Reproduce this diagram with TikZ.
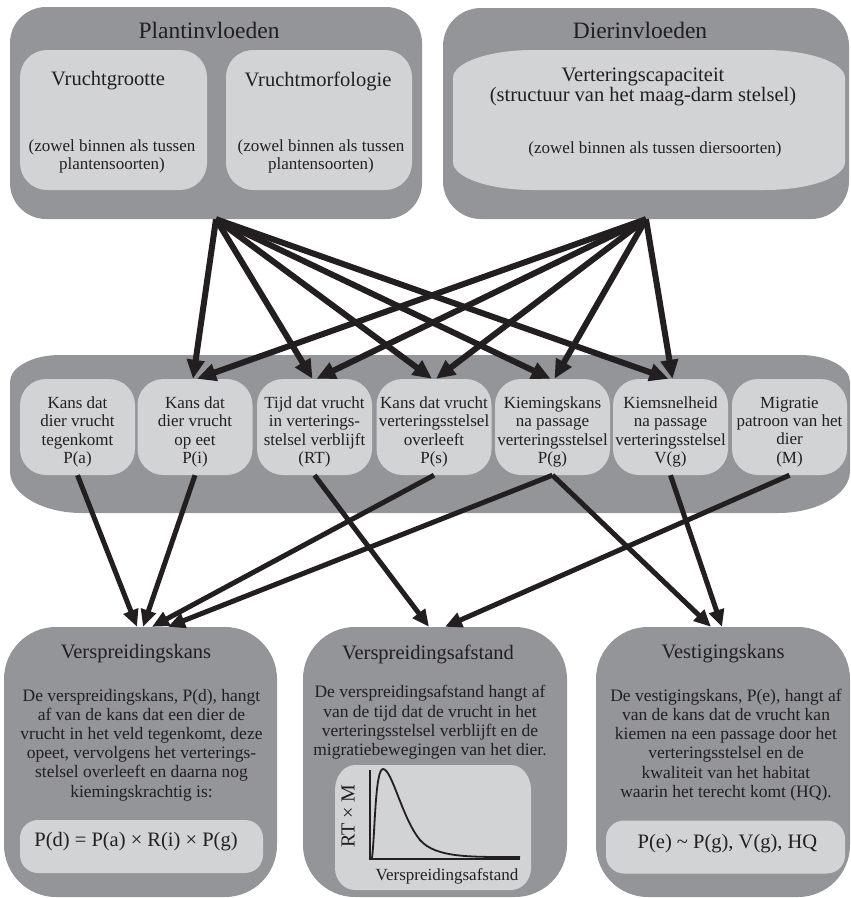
\documentclass[tikz,border=0pt]{standalone}
\usepackage{fontspec}
\setmainfont{Liberation Serif}
\usetikzlibrary{arrows.meta}
\definecolor{ink}{HTML}{231F20}
\definecolor{dgrey}{HTML}{939598}
\definecolor{lgrey}{HTML}{D1D3D4}
% rounded rectangle with elliptical corners: #1 style, (#2,#3) top-left, (#4,#5) bottom-right,
% #6/#7 x/y radius of top corners, #8/#9 x/y radius of bottom corners
\newcommand\erect[9]{%
  \path[#1] (#2+#6,#3) -- (#4-#6,#3)
    .. controls (#4-0.448*#6,#3) and (#4,#3+0.448*#7) .. (#4,#3+#7)
    -- (#4,#5-#9)
    .. controls (#4,#5-0.448*#9) and (#4-0.448*#8,#5) .. (#4-#8,#5)
    -- (#2+#8,#5)
    .. controls (#2+0.448*#8,#5) and (#2,#5-0.448*#9) .. (#2,#5-#9)
    -- (#2,#3+#7)
    .. controls (#2,#3+0.448*#7) and (#2+0.448*#6,#3) .. (#2+#6,#3) -- cycle;}
\begin{document}
\begin{tikzpicture}[x=1pt,y=-1pt,
  outer/.style={fill=dgrey, draw=none, inner sep=0pt},
  inner/.style={fill=lgrey, draw=none, inner sep=0pt},
  txt/.style={text=ink, inner sep=0pt, align=center},
  ttl/.style={txt, font=\fontsize{23.5}{26}\selectfont},
  sub/.style={txt, font=\fontsize{20.5}{18.5}\selectfont},
  small/.style={txt, font=\fontsize{17}{17.8}\selectfont},
  mid/.style={txt, font=\fontsize{17}{18.3}\selectfont},
  body/.style={txt, font=\fontsize{17.5}{19.2}\selectfont},
  frm/.style={txt, font=\fontsize{20.5}{24}\selectfont},
  midbox/.style={inner, rounded corners=26pt, minimum width=115pt, minimum height=96pt},
  botbox/.style={outer, rounded corners=52pt, minimum height=270pt},
  frmbox/.style={inner, rounded corners=18pt, minimum height=53pt},
  toparr/.style={draw=ink, line width=6pt, -{Triangle[length=19pt,width=17pt]}},
  botarr/.style={draw=ink, line width=5pt, -{Triangle[length=17pt,width=15pt]}},
  plot/.style={draw=ink, line width=1.8pt},
]
\useasboundingbox (0,0) rectangle (851,898);

% ---------- top row ----------
\node[outer, rounded corners=36pt, minimum width=412pt, minimum height=212pt] (plant) at (216,113) {};
\node[outer, rounded corners=38pt, minimum width=406pt, minimum height=211pt] (dier) at (646,113.5) {};
\node[inner, rounded corners=27pt, minimum width=187pt, minimum height=140pt] (vgr) at (113.5,120) {};
\node[inner, rounded corners=27pt, minimum width=186pt, minimum height=140pt] (vmo) at (319,120) {};
\erect{inner}{453}{50}{845}{190}{80}{28}{80}{28}

\node[ttl] (plantT) at (209,30) {Plantinvloeden};
\node[ttl] (dierT) at (640,30) {Dierinvloeden};
\node[sub] (vgrT) at (108,81) {Vruchtgrootte};
\node[sub] (vmoT) at (318,81) {Vruchtmorfologie};
\node[small] (vgrS) at (112,156.5) {(zowel binnen als tussen\\plantensoorten)};
\node[small] (vmoS) at (321,156.5) {(zowel binnen als tussen\\plantensoorten)};
\node[sub] (vcT) at (643,87) {Verteringscapaciteit\\(structuur van het maag-darm stelsel)};
\node[small] (vcS) at (655,149.5) {(zowel binnen als tussen diersoorten)};

% ---------- middle row ----------
\erect{outer}{10}{355}{850}{513}{50}{27}{72}{42}
\node[midbox] (m1) at (77.5,427) {};
\node[midbox] (m2) at (195,427) {};
\node[midbox] (m3) at (314.5,427) {};
\node[midbox] (m4) at (434,427) {};
\node[midbox] (m5) at (552.5,427) {};
\node[midbox] (m6) at (670.5,427) {};
\node[midbox] (m7) at (789.5,427) {};
\node[mid] (m1t) at (77.5,432) {Kans dat\\dier vrucht\\tegenkomt\\P(a)};
\node[mid] (m2t) at (195,432) {Kans dat\\dier vrucht\\op eet\\P(i)};
\node[mid] (m3t) at (314.5,432) {Tijd dat vrucht\\in verterings-\\stelsel verblijft\\(RT)};
\node[mid] (m4t) at (434,432) {Kans dat vrucht\\verteringsstelsel\\overleeft\\P(s)};
\node[mid] (m5t) at (552.5,432) {Kiemingskans\\na passage\\verteringsstelsel\\P(g)};
\node[mid] (m6t) at (670.5,432) {Kiemsnelheid\\na passage\\verteringsstelsel\\V(g)};
\node[mid] (m7t) at (789.5,432) {Migratie\\patroon van het\\dier\\(M)};

% ---------- bottom row ----------
\node[botbox, minimum width=273pt] (vk) at (140.5,762) {};
\node[botbox, minimum width=264pt] (va) at (435,762) {};
\node[botbox, minimum width=254pt] (vg) at (723,762) {};
\node[frmbox, minimum width=243pt] (fk) at (141.5,846.5) {};
\node[frmbox, minimum width=239pt] (fg) at (725.5,847) {};
\erect{inner}{335}{765}{531}{890}{20}{25}{20}{22}

\node[sub] (vkT) at (136,654) {Verspreidingskans};
\node[sub] (vaT) at (428,654) {Verspreidingsafstand};
\node[sub] (vgT) at (723,654) {Vestigingskans};
\node[body] (vkB) at (141.5,745) {De verspreidingskans, P(d), hangt\\af van de kans dat een dier de\\vrucht in  het veld tegenkomt, deze\\opeet, vervolgens het verterings-\\stelsel overleeft en daarna nog\\kiemingskrachtig is:};
\node[body] (vaB) at (430,722.5) {De verspreidingsafstand hangt af\\van de tijd dat de vrucht in het\\verteringsstelsel verblijft en de\\migratiebewegingen van het dier.};
\node[body] (vgB) at (726,745) {De vestigingskans, P(e), hangt af\\van de kans dat de vrucht kan\\kiemen na een passage door het\\verteringsstelsel en de\\kwaliteit van het habitat\\waarin het terecht komt (HQ).};
\node[frm] (fkT) at (136,842) {P(d) = P(a) × R(i) × P(g)};
\node[frm] (fgT) at (727.5,844) {P(e) \textasciitilde{} P(g), V(g), HQ};

% graph
\draw[plot] (370,770) -- (370,859) -- (520,859);
\draw[plot] (372,858) .. controls (375,835) and (375,769) .. (383,769)
  .. controls (392,769) and (402,818) .. (420,840)
  .. controls (436,858) and (470,857) .. (520,857);
\node[txt, font=\fontsize{20}{22}\selectfont, rotate=90] (ylab) at (348,816) {RT × M};
\node[small] (xlab) at (447,876) {Verspreidingsafstand};

% ---------- arrows ----------
\foreach \m in {m2,m3,m4,m5,m6} {
  \draw[toparr] (plant.south) -- ([xshift=-2pt]\m.north);
  \draw[toparr] (dier.south) -- ([xshift=2pt]\m.north);
}
\draw[botarr] (m1.south) -- ([xshift=-3.5pt]vk.north);
\draw[botarr] (m2.south) -- ([xshift=2.5pt]vk.north);
\draw[botarr] (m4.south) -- ([xshift=11.5pt]vk.north);
\draw[botarr] (m5.south) -- ([xshift=27.5pt]vk.north);
\draw[botarr] (m3.south) -- ([xshift=-6pt]va.north);
\draw[botarr] (m7.south) -- ([xshift=10pt]va.north);
\draw[botarr] (m5.south) -- ([xshift=-12pt]vg.north);
\draw[botarr] (m6.south) -- ([xshift=-1pt]vg.north);
\end{tikzpicture}
\end{document}
